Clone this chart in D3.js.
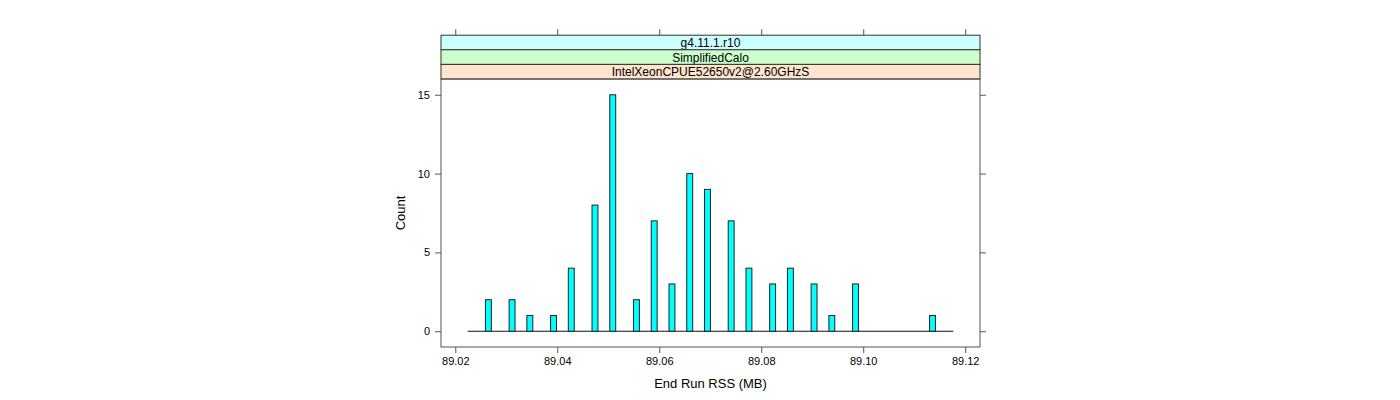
<!DOCTYPE html>
<meta charset="utf-8">
<title>End Run RSS histogram</title>

<style>
body { margin: 0; background-color: white; }
svg { font-family: 'Liberation Sans', Arial, sans-serif; }
.tick-label { font-size: 11px; fill: black; }
.strip-text { font-size: 12px; fill: black; }
</style>
<body>
<div id="my_dataviz"></div>

<script src="https://d3js.org/d3.v7.min.js"></script>
<script>

// strip labels, outer level first (drawn top to bottom)
var stripLabels = ["g4.11.1.r10", "SimplifiedCalo", "IntelXeonCPUE52650v2@2.60GHzS"];
var stripColors = ["#ccffff", "#ccffcc", "#ffe5cc"];

// histogram breaks (MB) and counts per bin
var breakLo = 89.02243,
    breakHi = 89.11765;
var counts = [0,0,0,2,0,0,0,2,0,0,
              1,0,0,0,1,0,0,4,0,0,
              0,8,0,0,15,0,0,0,2,0,
              0,7,0,0,3,0,0,10,0,0,
              9,0,0,0,7,0,0,4,0,0,
              0,3,0,0,4,0,0,0,3,0,
              0,1,0,0,0,3,0,0,0,0,
              0,0,0,0,0,0,0,0,1,0,
              0,0];

var xTicks = [89.02, 89.04, 89.06, 89.08, 89.10, 89.12];
var yTicks = [0, 5, 10, 15];
var xLimits = [89.0172, 89.1229];
var yLimits = [-1, 16];

// panel geometry
var panel = {left: 441, right: 980, top: 79, bottom: 347},
    stripH = 14.6,
    tickLen = 6,
    width = 1400,
    height = 400;

var svg = d3.select("#my_dataviz")
  .append("svg")
    .attr("width", width)
    .attr("height", height);

var x = d3.scaleLinear().domain(xLimits).range([panel.left, panel.right]);
var y = d3.scaleLinear().domain(yLimits).range([panel.bottom, panel.top]);

var binW = (breakHi - breakLo) / counts.length;
var bins = counts.map(function(c, i) {
  return {x0: breakLo + i * binW, x1: breakLo + (i + 1) * binW, count: c};
});

// strips
var stripTop = panel.top - stripH * stripLabels.length;
stripLabels.forEach(function(lab, i) {
  var yy = stripTop + i * stripH;
  svg.append("rect")
    .attr("x", panel.left)
    .attr("y", yy)
    .attr("width", panel.right - panel.left)
    .attr("height", stripH)
    .attr("fill", stripColors[i])
    .attr("stroke", "#333")
    .attr("stroke-width", 1);
  svg.append("text")
    .attr("class", "strip-text")
    .attr("x", (panel.left + panel.right) / 2)
    .attr("y", yy + stripH / 2 + 0.5)
    .attr("text-anchor", "middle")
    .attr("dominant-baseline", "central")
    .text(lab);
});

// empty bins collapse to a flat line along zero
svg.append("line")
  .attr("x1", x(bins[0].x0))
  .attr("x2", x(bins[bins.length - 1].x1))
  .attr("y1", y(0))
  .attr("y2", y(0))
  .attr("stroke", "#111")
  .attr("stroke-width", 1);

// bars
svg.selectAll("rect.bar")
  .data(bins.filter(function(d) { return d.count > 0; }))
  .enter()
  .append("rect")
    .attr("class", "bar")
    .attr("x", function(d) { return x(d.x0); })
    .attr("y", function(d) { return y(d.count); })
    .attr("width", function(d) { return x(d.x1) - x(d.x0); })
    .attr("height", function(d) { return y(0) - y(d.count); })
    .attr("fill", "#00ffff")
    .attr("stroke", "#222")
    .attr("stroke-width", 1);

// panel box
svg.append("rect")
  .attr("x", panel.left)
  .attr("y", panel.top)
  .attr("width", panel.right - panel.left)
  .attr("height", panel.bottom - panel.top)
  .attr("fill", "none")
  .attr("stroke", "#555")
  .attr("stroke-width", 1);

// bottom axis with labels, top ticks above the strips
var bottomAxis = d3.axisBottom(x).tickValues(xTicks).tickSize(tickLen).tickPadding(4)
  .tickFormat(d3.format(".2f"));
var gb = svg.append("g")
  .attr("transform", "translate(0," + panel.bottom + ")")
  .call(bottomAxis);

var gt = svg.append("g")
  .attr("transform", "translate(0," + stripTop + ")")
  .call(d3.axisTop(x).tickValues(xTicks).tickSize(tickLen).tickFormat(""));

// left axis with labels, right ticks only
var gl = svg.append("g")
  .attr("transform", "translate(" + panel.left + ",0)")
  .call(d3.axisLeft(y).tickValues(yTicks).tickSize(tickLen).tickPadding(5));

var gr = svg.append("g")
  .attr("transform", "translate(" + panel.right + ",0)")
  .call(d3.axisRight(y).tickValues(yTicks).tickSize(tickLen).tickFormat(""));

[gb, gt, gl, gr].forEach(function(g) {
  g.attr("font-size", null).attr("font-family", null);
  g.select(".domain").remove();
  g.selectAll(".tick line").attr("stroke", "#555");
  g.selectAll(".tick text").attr("class", "tick-label");
});

// axis titles
svg.append("text")
  .attr("x", (panel.left + panel.right) / 2)
  .attr("y", 388)
  .attr("text-anchor", "middle")
  .style("font-size", "13px")
  .text("End Run RSS (MB)");

svg.append("text")
  .attr("transform", "translate(405," + (panel.top + panel.bottom) / 2 + ")rotate(-90)")
  .attr("text-anchor", "middle")
  .style("font-size", "13px")
  .text("Count");

</script>
</body>
